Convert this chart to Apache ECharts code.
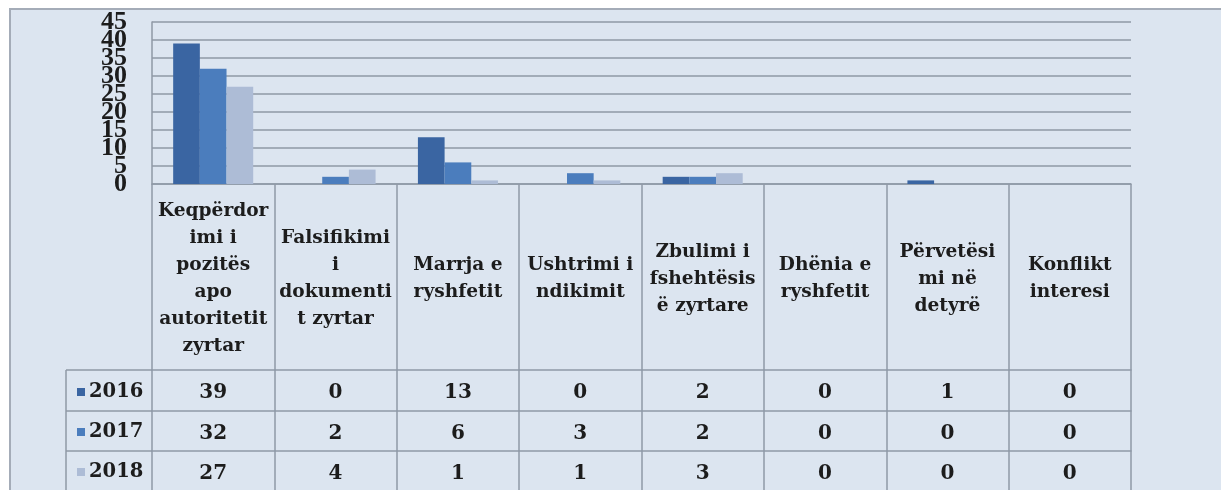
<!DOCTYPE html>
<html>
<head>
<meta charset="utf-8">
<script src="https://cdn.jsdelivr.net/npm/echarts@6/dist/echarts.min.js"></script>
<style>
  html, body { margin: 0; padding: 0; background: #ffffff; }
  #frame { position: absolute; left: 9px; top: 8px; width: 1212px; height: 482px;
           background: #dce5f0; border-left: 2px solid #a4acb8; border-top: 2px solid #a4acb8; box-sizing: border-box; }
  #chart { position: absolute; left: 0; top: 0; width: 1221px; height: 490px; }
</style>
</head>
<body>
<div id="frame"></div>
<div id="chart"></div>
<script>
const categories = [
  "Keqpërdor\nimi i\npozitës\napo\nautoritetit\nzyrtar",
  "Falsifikimi\ni\ndokumenti\nt zyrtar",
  "Marrja e\nryshfetit",
  "Ushtrimi i\nndikimit",
  "Zbulimi i\nfshehtësis\në zyrtare",
  "Dhënia e\nryshfetit",
  "Përvetësi\nmi në\ndetyrë",
  "Konflikt\ninteresi"
];
const seriesNames = ["2016", "2017", "2018"];
const values2016 = [39, 0, 13, 0, 2, 0, 1, 0];
const values2017 = [32, 2, 6, 3, 2, 0, 0, 0];
const values2018 = [27, 4, 1, 1, 3, 0, 0, 0];
const yTickLabels = ["0", "5", "10", "15", "20", "25", "30", "35", "40", "45"];
const yTicks = { min: 0, max: 45, interval: 5 };

const seriesValues = [values2016, values2017, values2018];
const colors = ["#3a65a2", "#4b7dbd", "#adbcd6"];
const lineColor = "#8f99a6";
const textColor = "#1c1c1c";
const serif = "'DejaVu Serif', serif";

const chart = echarts.init(document.getElementById('chart'), null, { renderer: 'canvas' });

const rowOffsets = [186, 227, 267];
const rowTickLen = [41, 40, 40];

const xAxes = [{
  type: 'category', gridIndex: 0, position: 'bottom', data: categories,
  axisLine: { show: true, lineStyle: { color: lineColor, width: 1.5 } },
  axisTick: { show: true, length: 186, lineStyle: { color: lineColor, width: 1.5 } },
  axisLabel: { interval: 0, margin: 95, verticalAlign: 'middle', align: 'center',
               fontFamily: serif, fontWeight: 'bold', fontSize: 18.6, lineHeight: 27, color: textColor }
}];
seriesValues.forEach((vals, k) => {
  xAxes.push({
    type: 'category', gridIndex: 0, position: 'bottom', offset: rowOffsets[k], data: categories,
    axisLine: { show: true, lineStyle: { color: lineColor, width: 1.5 } },
    axisTick: { show: true, length: rowTickLen[k], lineStyle: { color: lineColor, width: 1.5 } },
    axisLabel: { interval: 0, margin: 23, verticalAlign: 'middle', align: 'center',
                 fontFamily: serif, fontWeight: 'bold', fontSize: 20, color: textColor,
                 formatter: (v, i) => String(vals[i]) }
  });
});

const option = {
  backgroundColor: 'transparent',
  animation: false,
  color: colors,
  grid: { left: 152, right: 90, top: 22, bottom: 306, containLabel: false, outerBoundsMode: 'none' },
  legend: {
    orient: 'vertical', left: 77, top: 382, itemWidth: 8, itemHeight: 8, itemGap: 20, padding: 0,
    icon: 'rect', data: seriesNames,
    textStyle: { fontFamily: serif, fontWeight: 'bold', fontSize: 19.5, lineHeight: 20, color: textColor, padding: [0, 0, 0, -1] }
  },
  xAxis: xAxes,
  yAxis: [{
    type: 'value', gridIndex: 0, position: 'left', min: yTicks.min, max: yTicks.max, interval: yTicks.interval,
    axisLine: { show: true, lineStyle: { color: lineColor, width: 1.5 } },
    axisTick: { show: false },
    splitLine: { show: true, lineStyle: { color: lineColor, width: 1.5 } },
    axisLabel: { show: false }
  }, {
    type: 'category', gridIndex: 0, position: 'left', data: yTickLabels, boundaryGap: false,
    axisLine: { show: false }, axisTick: { show: false }, splitLine: { show: false },
    axisLabel: { interval: 0, margin: 25, fontFamily: "'Liberation Serif', serif", fontWeight: 'bold',
                 fontSize: 26, color: textColor }
  }],
  series: seriesValues.map((vals, k) => ({
    name: seriesNames[k], type: 'bar', xAxisIndex: 0, yAxisIndex: 0, data: vals,
    barGap: '0%', barCategoryGap: '34.6%', itemStyle: { color: colors[k] }
  })),
  graphic: [
    { type: 'line', shape: { x1: 66, y1: 370, x2: 152, y2: 370 }, style: { stroke: lineColor, lineWidth: 1.5 } },
    { type: 'line', shape: { x1: 66, y1: 411, x2: 152, y2: 411 }, style: { stroke: lineColor, lineWidth: 1.5 } },
    { type: 'line', shape: { x1: 66, y1: 451, x2: 152, y2: 451 }, style: { stroke: lineColor, lineWidth: 1.5 } },
    { type: 'line', shape: { x1: 66, y1: 370, x2: 66, y2: 490 }, style: { stroke: lineColor, lineWidth: 1.5 } }
  ]
};
chart.setOption(option);
</script>
</body>
</html>
